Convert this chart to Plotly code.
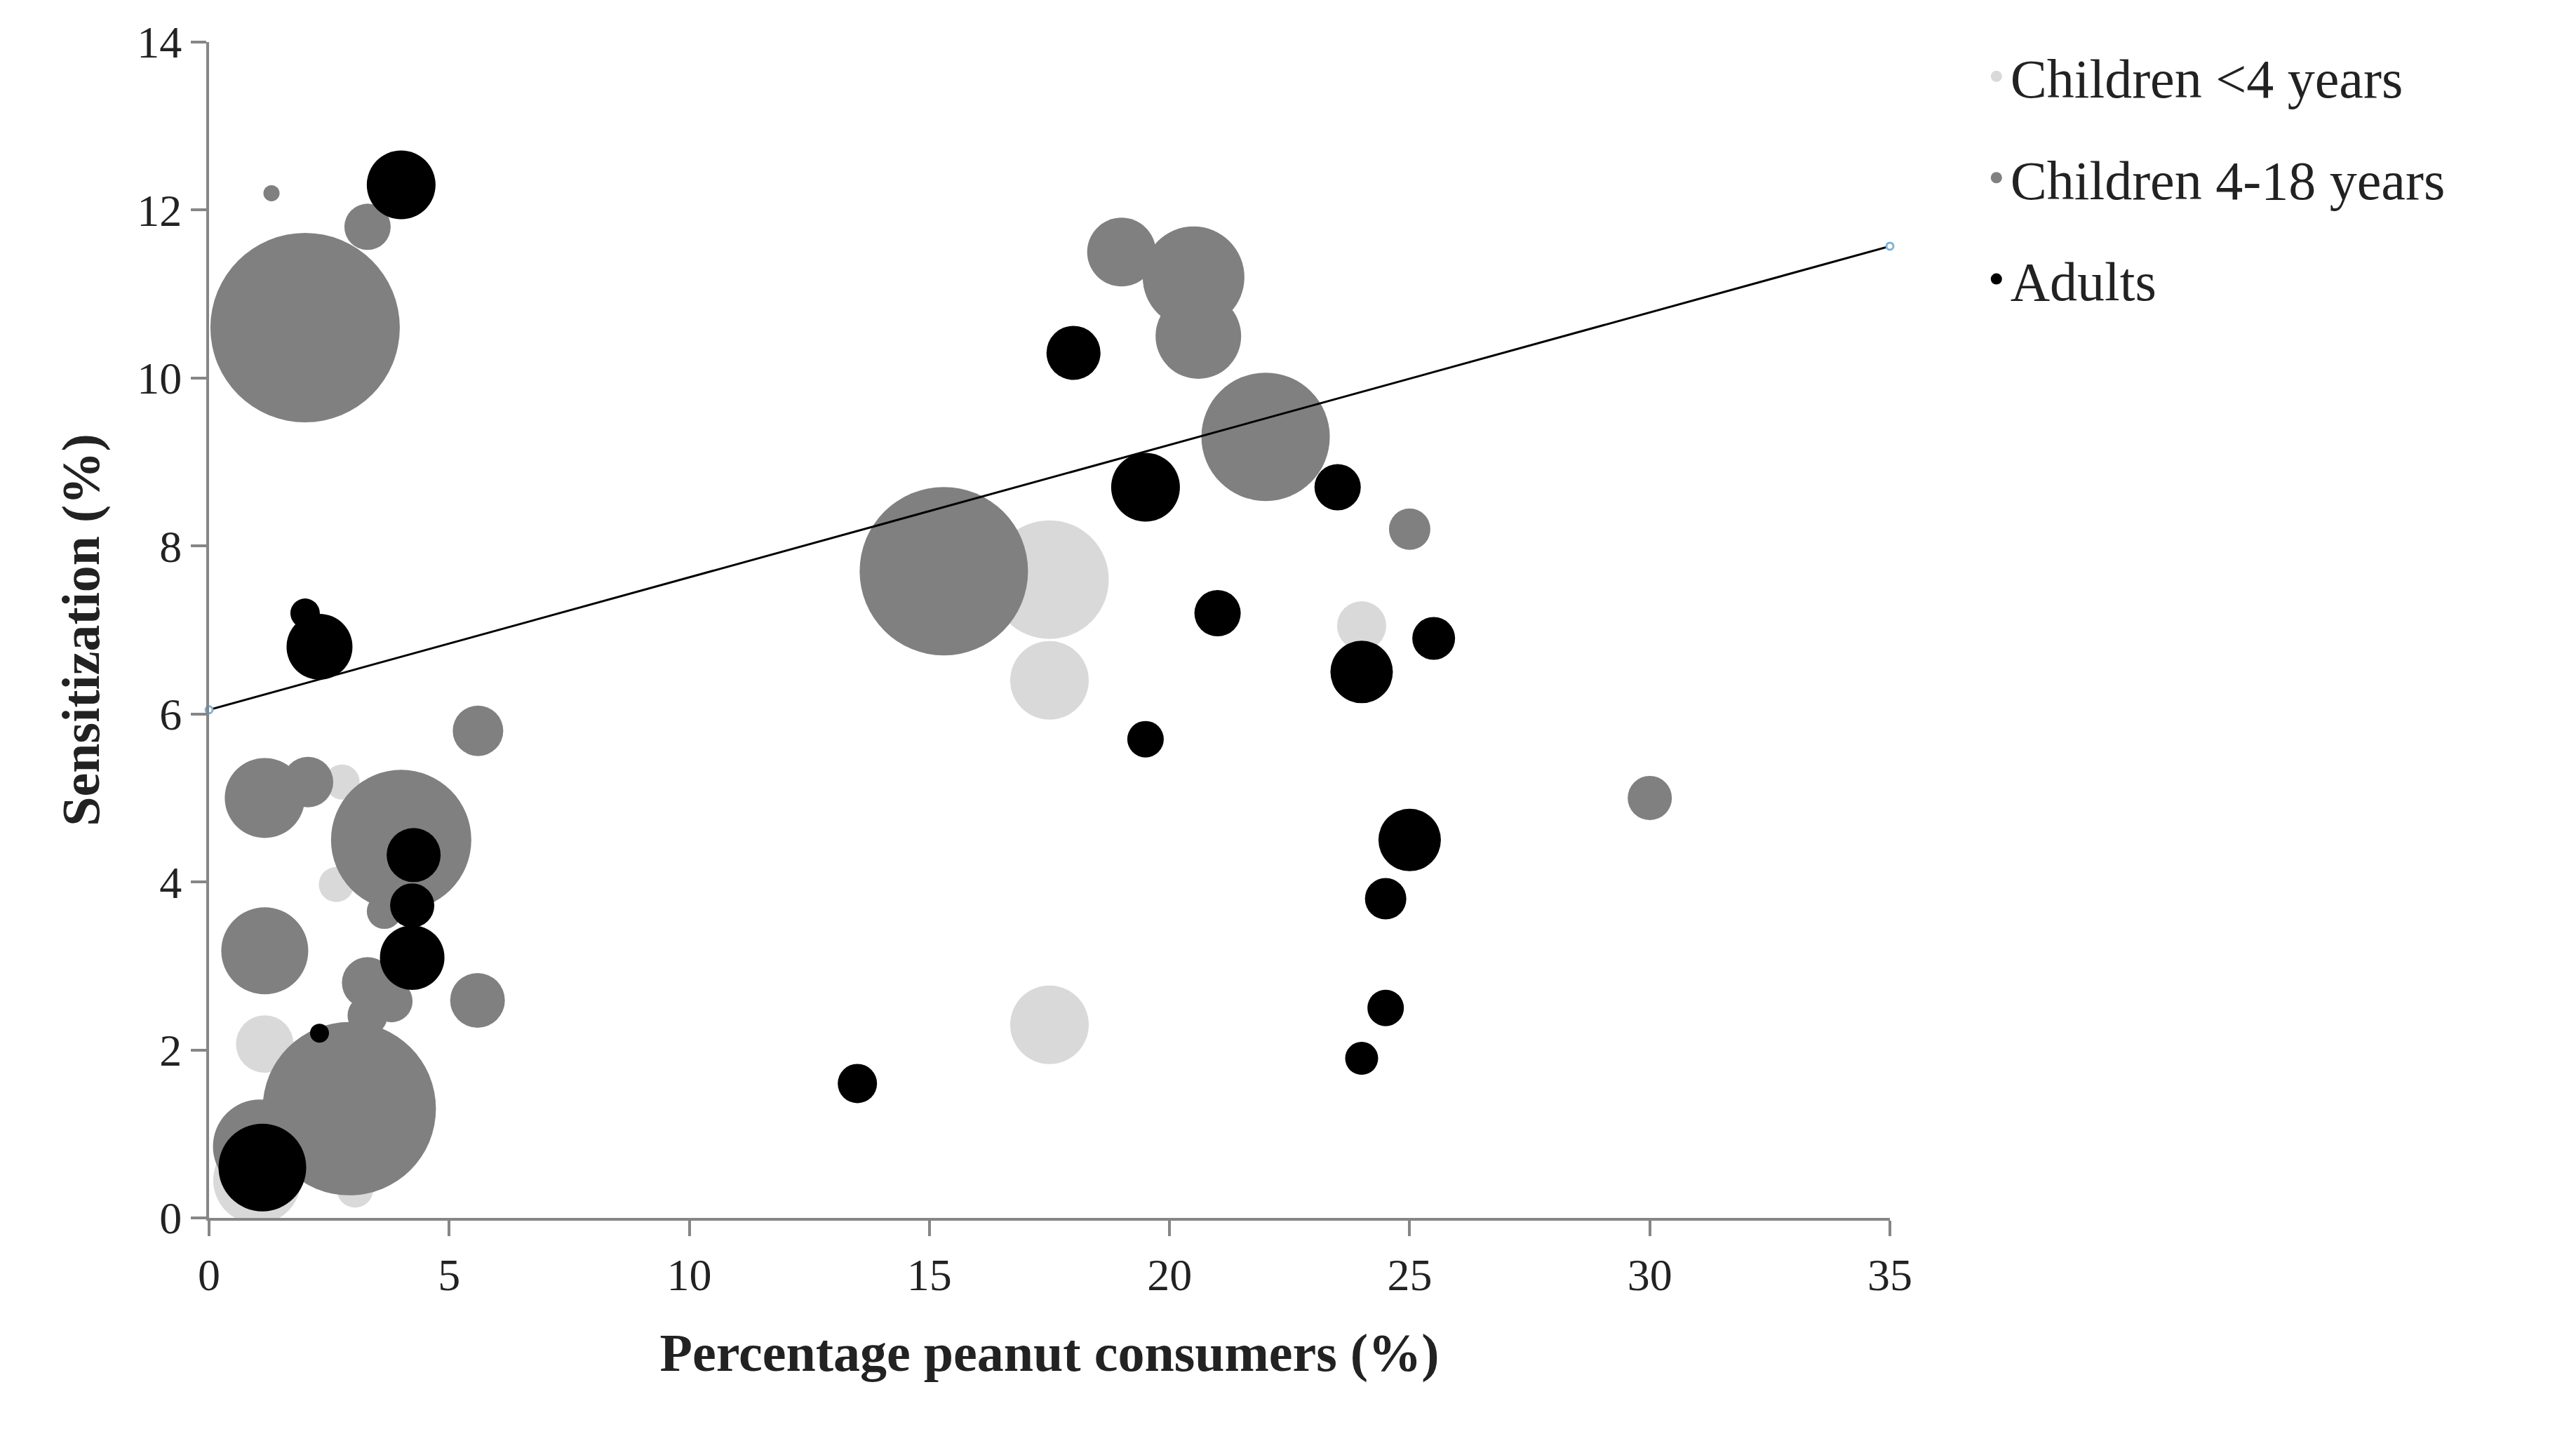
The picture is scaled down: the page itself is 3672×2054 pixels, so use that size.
import plotly.graph_objects as go

# Children <4 years
young_x = [2.77, 2.65, 1.16, 3.04, 1.0, 17.5, 17.5, 24.0, 17.5]
young_y = [5.19, 3.97, 2.07, 0.34, 0.45, 7.6, 6.4, 7.05, 2.3]
young_s = [50, 50, 82, 52, 125, 169, 112, 70, 112]

# Children 4-18 years
child_x = [1.3, 3.3, 2.0, 15.3, 19.0, 20.5, 20.6, 22.0, 25.0, 30.0,
           5.6, 1.16, 2.06, 4.0, 3.65, 3.3, 3.8, 3.3, 5.59, 1.16, 2.92, 1.06]
child_y = [12.2, 11.8, 10.6, 7.7, 11.5, 11.2, 10.5, 9.3, 8.2, 5.0,
           5.8, 5.0, 5.19, 4.5, 3.65, 2.8, 2.58, 2.41, 2.59, 3.18, 1.3, 0.85]
child_s = [23, 66, 270, 240, 98, 145, 122, 183, 59, 63,
           72, 114, 72, 200, 50, 73, 60, 57, 78, 124, 247, 134]

# Adults
adult_x = [4.0, 2.0, 2.3, 18.0, 19.5, 23.5, 21.0, 25.5, 24.0, 19.5, 25.0, 24.5, 24.5, 24.0, 13.5,
           4.26, 4.23, 4.23, 2.3, 1.11]
adult_y = [12.3, 7.2, 6.8, 10.3, 8.7, 8.7, 7.2, 6.9, 6.5, 5.7, 4.5, 3.8, 2.5, 1.9, 1.6,
           4.32, 3.72, 3.1, 2.2, 0.6]
adult_s = [98, 42, 94, 77, 98, 66, 66, 61, 89, 52, 89, 59, 52, 47, 56,
           77, 63, 92, 27, 125]

trend_x = [0, 35]
trend_y = [6.05, 11.57]

x_ticks = [0, 5, 10, 15, 20, 25, 30, 35]
y_ticks = [0, 2, 4, 6, 8, 10, 12, 14]

FONT = "Liberation Serif"
fig = go.Figure()
series = [
    ("Children <4 years", young_x, young_y, young_s, "#d9d9d9"),
    ("Children 4-18 years", child_x, child_y, child_s, "#808080"),
    ("Adults", adult_x, adult_y, adult_s, "#000000"),
]
for name, xs, ys, ss, col in series:
    fig.add_trace(go.Scatter(x=xs, y=ys, mode="markers", name=name, showlegend=False,
                             marker=dict(size=ss, sizemode="diameter", color=col, opacity=1,
                                         line=dict(width=0))))
for name, xs, ys, ss, col in series:
    fig.add_trace(go.Scatter(x=[None], y=[None], mode="markers", name=name, legendgroup=name,
                             marker=dict(size=50, color=col)))
fig.add_trace(go.Scatter(x=trend_x, y=trend_y, mode="lines+markers", showlegend=False,
                         line=dict(color="black", width=3), cliponaxis=False,
                         marker=dict(size=10, color="white", line=dict(color="#7fb1d6", width=3))))

fig.update_layout(
    width=3672, height=2054, plot_bgcolor="white", paper_bgcolor="white",
    margin=dict(l=290, r=3672 - 2686, t=52, b=2054 - 1728),
    font=dict(family=FONT, size=64, color="#222"),
    legend=dict(x=1.055, y=1.005, xanchor="left", yanchor="top", font=dict(size=78),
                tracegroupgap=40, bgcolor="rgba(0,0,0,0)"),
    xaxis=dict(range=[0, 35], tickvals=x_ticks, showgrid=False, zeroline=False,
               showline=True, linecolor="#868686", linewidth=4, ticks="outside",
               ticklen=22, tickwidth=4, tickcolor="#868686",
               title=dict(text="<b>Percentage peanut consumers (%)</b>", font=dict(size=76), standoff=50)),
    yaxis=dict(range=[0, 14], tickvals=y_ticks, showgrid=False, zeroline=False,
               showline=True, linecolor="#868686", linewidth=4, ticks="outside",
               ticklen=22, tickwidth=4, tickcolor="#868686",
               title=dict(text="<b>Sensitization (%)</b>", font=dict(size=76), standoff=30)),
)
fig.write_html("out.html")
